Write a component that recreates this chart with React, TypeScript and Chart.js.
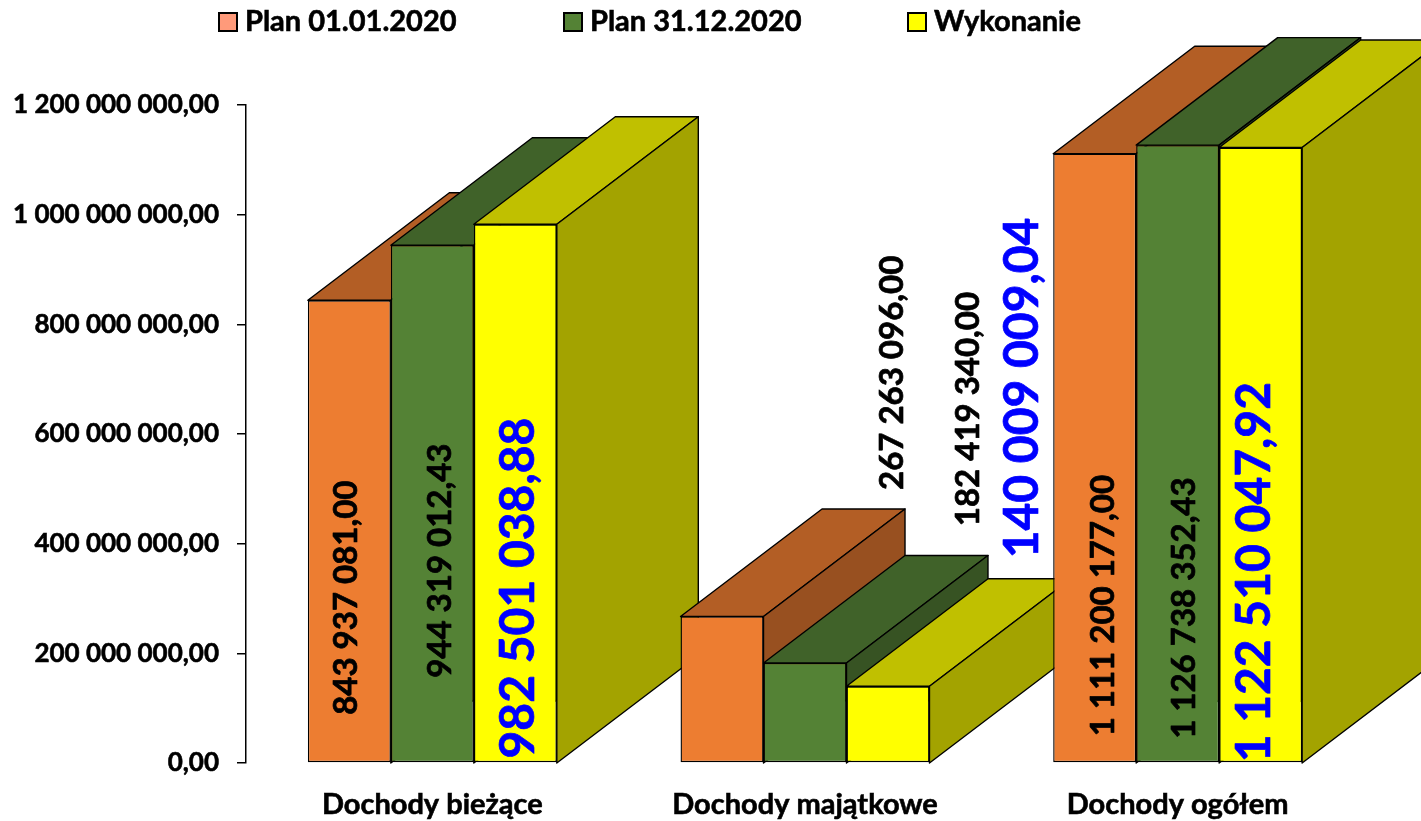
import React, { useEffect, useRef } from "react";
import { Chart, registerables } from "chart.js";

Chart.register(...registerables);

const categories = ["Dochody bieżące", "Dochody majątkowe", "Dochody ogółem"];
const seriesNames = ["Plan 01.01.2020", "Plan 31.12.2020", "Wykonanie"];
const planStart = [843937081.0, 267263096.0, 1111200177.0];
const planEnd = [944319012.43, 182419340.0, 1126738352.43];
const actual = [982501038.88, 140009009.04, 1122510047.92];
const yTicks = [0, 200000000, 400000000, 600000000, 800000000, 1000000000, 1200000000];

// label centres, as axis values (per series, per category)
const labelCentres = [
  [301500000, 711500000, 287000000],
  [369000000, 645500000, 282500000],
  [319000000, 684000000, 348000000],
];
// horizontal label shift away from each bar's centre, in px
const labelShift = [
  [-3, 170, 9],
  [8, 163, 7],
  [3, 135, -6],
];

const FONT = "Lato, Carlito, Calibri, sans-serif";
const fronts = ["#ED7D31", "#548235", "#FFFF00"];
const tops = ["#B35E25", "#406229", "#C0C000"];
const sides = ["#985020", "#375323", "#A3A300"];
const swatches = ["#FF9A7A", "#548235", "#FFFF00"];
const labelColors = ["#000000", "#000000", "#0000FF"];
const labelFonts = [`bold 33px ${FONT}`, `bold 33px ${FONT}`, `bold 48px ${FONT}`];
const DX = 141.5;
const DY = 107.5;

function fmt(v: number): string {
  const [i, d] = v.toFixed(2).split(".");
  return i.replace(/\B(?=(\d{3})+(?!\d))/g, " ") + "," + d;
}

function poly(ctx: CanvasRenderingContext2D, pts: number[][], fill: string) {
  ctx.beginPath();
  pts.forEach((p, i) => (i ? ctx.lineTo(p[0], p[1]) : ctx.moveTo(p[0], p[1])));
  ctx.closePath();
  ctx.fillStyle = fill;
  ctx.fill();
  ctx.strokeStyle = "#000000";
  ctx.lineWidth = 1.4;
  ctx.lineJoin = "round";
  ctx.stroke();
}

const bars3d = {
  id: "bars3d",
  beforeDatasetDraw() {
    return false;
  },
  afterDatasetsDraw(chart: any) {
    const ctx: CanvasRenderingContext2D = chart.ctx;
    const base = chart.scales.y.getPixelForValue(0);
    ctx.save();
    categories.forEach((_, c) => {
      seriesNames.forEach((__, s) => {
        const el = chart.getDatasetMeta(s).data[c];
        const l = el.x - el.width / 2;
        const r = el.x + el.width / 2;
        const t = el.y;
        poly(ctx, [[l, t], [r, t], [r + DX, t - DY], [l + DX, t - DY]], tops[s]);
        poly(ctx, [[r, t], [r + DX, t - DY], [r + DX, base - DY], [r, base]], sides[s]);
        el.draw(ctx);
      });
    });
    const y = chart.scales.y;
    const data = [planStart, planEnd, actual];
    data.forEach((vals, s) => {
      vals.forEach((v, c) => {
        const el = chart.getDatasetMeta(s).data[c];
        ctx.save();
        ctx.translate(el.x + labelShift[s][c], y.getPixelForValue(labelCentres[s][c]));
        ctx.rotate(-Math.PI / 2);
        ctx.font = labelFonts[s];
        ctx.fillStyle = labelColors[s];
        ctx.strokeStyle = labelColors[s];
        ctx.lineWidth = 0.7;
        ctx.textAlign = "center";
        ctx.textBaseline = "middle";
        ctx.fillText(fmt(v), 0, 0);
        ctx.strokeText(fmt(v), 0, 0);
        ctx.restore();
      });
    });
    ctx.restore();
  },
  afterDraw(chart: any) {
    const ctx: CanvasRenderingContext2D = chart.ctx;
    ctx.save();
    ctx.textBaseline = "middle";
    ctx.textAlign = "left";
    const xs = [219, 564, 908];
    seriesNames.forEach((name, i) => {
      ctx.fillStyle = swatches[i];
      ctx.strokeStyle = "#000000";
      ctx.lineWidth = 2;
      ctx.fillRect(xs[i], 13, 18, 18);
      ctx.strokeRect(xs[i], 13, 18, 18);
      ctx.font = `bold 29px ${FONT}`;
      ctx.fillStyle = "#000000";
      ctx.strokeStyle = "#000000";
      ctx.lineWidth = 0.6;
      ctx.fillText(name, xs[i] + 26, 22);
      ctx.strokeText(name, xs[i] + 26, 22);
    });
    ctx.restore();
  },
};

export default function App() {
  const ref = useRef<HTMLCanvasElement>(null);
  useEffect(() => {
    const chart = new Chart(ref.current!, {
      type: "bar",
      data: {
        labels: categories,
        datasets: [planStart, planEnd, actual].map((d, i) => ({
          label: seriesNames[i],
          data: d,
          backgroundColor: fronts[i],
          borderColor: "#000000",
          borderWidth: 1.4,
          borderSkipped: false,
          barPercentage: 1,
          categoryPercentage: 0.668,
        })),
      },
      options: {
        responsive: false,
        animation: false,
        plugins: { legend: { display: false }, tooltip: { enabled: false }, title: { display: false } },
        scales: {
          x: {
            grid: { display: false, drawTicks: false },
            border: { display: false },
            ticks: {
              color: "#000000",
              font: { family: FONT, size: 29, weight: "bold" },
              textStrokeColor: "#000000",
              textStrokeWidth: 0.6,
              padding: 24,
              maxRotation: 0,
            },
            afterFit(scale: any) {
              scale.height = 58;
            },
          },
          y: {
            min: 0,
            max: 1200000000,
            afterBuildTicks(scale: any) {
              scale.ticks = yTicks.map((value) => ({ value }));
            },
            grid: { display: true, drawOnChartArea: false, drawTicks: true, tickLength: 9, color: "#000000", lineWidth: 1.5 },
            border: { display: true, color: "#000000", width: 1.5 },
            ticks: {
              color: "#000000",
              font: { family: FONT, size: 26, weight: "bold" },
              textStrokeColor: "#000000",
              textStrokeWidth: 0.6,
              padding: 18,
              callback: (v: any) => fmt(Number(v)),
            },
            afterFit(scale: any) {
              scale.width = 246;
            },
          },
        },
      },
      plugins: [
        bars3d,
        {
          id: "frame",
          beforeLayout(c: any) {
            c.options.layout.padding = { top: 105, right: 57, bottom: 0, left: 0 };
          },
        },
      ],
    } as any);
    return () => chart.destroy();
  }, []);
  return <canvas ref={ref} width={1421} height={821} style={{ position: "fixed", left: 0, top: 0, display: "block" }} />;
}
